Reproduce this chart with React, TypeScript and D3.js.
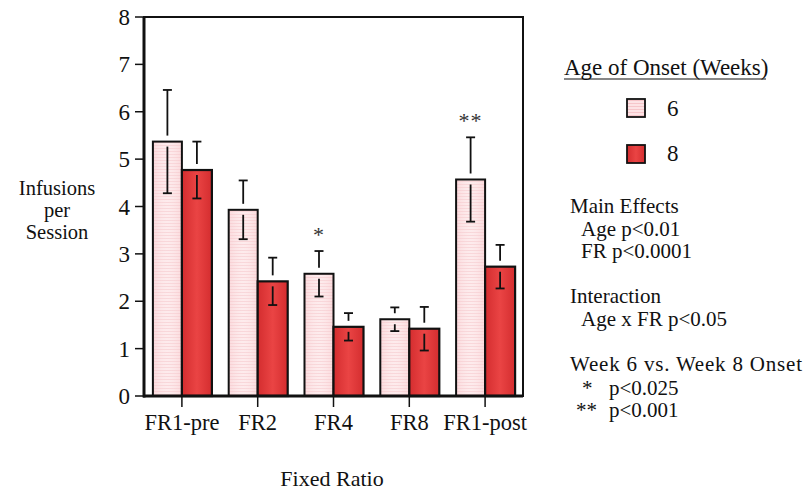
import React from "react";
import * as d3 from "d3";

const categories = ["FR1-pre", "FR2", "FR4", "FR8", "FR1-post"];
const week6Means = [5.37, 3.93, 2.58, 1.62, 4.57];
const week6Err = [1.09, 0.62, 0.48, 0.25, 0.89];
const week8Means = [4.77, 2.42, 1.46, 1.42, 2.73];
const week8Err = [0.6, 0.5, 0.29, 0.46, 0.46];
const week6Stars = ["", "", "*", "", "**"];
const yTicks = [0, 1, 2, 3, 4, 5, 6, 7, 8];
const statsLines = [
  { t: "Main Effects", dx: 0 },
  { t: "Age p<0.01", dx: 11 },
  { t: "FR p<0.0001", dx: 11 },
  { t: "", dx: 0 },
  { t: "Interaction", dx: 0 },
  { t: "Age x FR p<0.05", dx: 11 },
  { t: "", dx: 0 },
  { t: "Week 6 vs. Week 8 Onset", dx: 0 },
];

const W = 809;
const H = 494;
const font = "'Liberation Serif', 'Times New Roman', serif";

export default function App() {
  const x = d3.scaleBand<string>().domain(categories).range([144, 523]).padding(0);
  const y = d3.scaleLinear().domain([0, 8]).range([396, 17]);
  const bw = 29;

  const errorBar = (cx: number, mean: number, err: number, key: string) => {
    const top = y(mean + err);
    const bot = y(mean - err);
    const barTop = y(mean);
    const cap = 4.5;
    return (
      <g key={key} stroke="#111" strokeWidth={1.8}>
        <line x1={cx} x2={cx} y1={top} y2={barTop - 6} />
        <line x1={cx - cap} x2={cx + cap} y1={top} y2={top} />
        <line x1={cx} x2={cx} y1={barTop + 5} y2={bot} />
        <line x1={cx - cap} x2={cx + cap} y1={bot} y2={bot} />
      </g>
    );
  };

  return (
    <svg width={W} height={H} style={{ position: "absolute", left: 0, top: 0 }} fontFamily={font}>
      <defs>
        <pattern id="pinkPat" width="6" height="3" patternUnits="userSpaceOnUse">
          <rect width="6" height="3" fill="#fde3e5" />
          <rect width="6" height="1" y="1" fill="#f6c6ca" />
        </pattern>
        <linearGradient id="redGrad" x1="0" x2="1" y1="0" y2="0">
          <stop offset="0" stopColor="#d42d2f" />
          <stop offset="0.5" stopColor="#ea4444" />
          <stop offset="1" stopColor="#d42d2f" />
        </linearGradient>
        <linearGradient id="pinkGrad" x1="0" x2="1" y1="0" y2="0">
          <stop offset="0" stopColor="#f9d3d6" stopOpacity="0.6" />
          <stop offset="0.5" stopColor="#ffffff" stopOpacity="0.3" />
          <stop offset="1" stopColor="#f9d3d6" stopOpacity="0.6" />
        </linearGradient>
      </defs>
      <rect width={W} height={H} fill="#fff" />

      {/* bars */}
      {categories.map((c, i) => {
        const cx = (x(c) as number) + x.bandwidth() / 2;
        return (
          <g key={c}>
            <rect x={cx - bw} y={y(week6Means[i])} width={bw} height={y(0) - y(week6Means[i])} fill="url(#pinkPat)" />
            <rect x={cx - bw} y={y(week6Means[i])} width={bw} height={y(0) - y(week6Means[i])} fill="url(#pinkGrad)" stroke="#111" strokeWidth={2} />
            <rect x={cx} y={y(week8Means[i])} width={bw + 1} height={y(0) - y(week8Means[i])} fill="url(#redGrad)" stroke="#111" strokeWidth={2.2} />
            {errorBar(cx - bw / 2, week6Means[i], week6Err[i], "e6" + c)}
            {errorBar(cx + bw / 2 + 0.5, week8Means[i], week8Err[i], "e8" + c)}
            {week6Stars[i] && (
              <text x={cx - bw / 2} y={y(week6Means[i] + week6Err[i]) - 9} textAnchor="middle" fontSize={22} fill="#333" letterSpacing={1}>
                {week6Stars[i]}
              </text>
            )}
          </g>
        );
      })}

      {/* frame */}
      <rect x={144} y={y(8)} width={523 - 144} height={y(0) - y(8)} fill="none" stroke="#111" strokeWidth={2} />
      <line x1={144} x2={144} y1={y(8)} y2={y(0) + 1.5} stroke="#111" strokeWidth={3} />
      <line x1={143} x2={523} y1={y(0)} y2={y(0)} stroke="#111" strokeWidth={3} />

      {/* y axis */}
      {yTicks.map((t) => (
        <g key={t}>
          <line x1={135} x2={144} y1={y(t)} y2={y(t)} stroke="#111" strokeWidth={1.5} />
          <text x={130} y={y(t) + 8} textAnchor="end" fontSize={23} fill="#111">
            {t}
          </text>
        </g>
      ))}

      {/* x axis */}
      {categories.map((c) => {
        const cx = (x(c) as number) + x.bandwidth() / 2;
        return (
          <g key={"xt" + c}>
            <line x1={cx} x2={cx} y1={y(0)} y2={y(0) + 11} stroke="#111" strokeWidth={1.5} />
            <text x={cx} y={430} textAnchor="middle" fontSize={22.5} fill="#111">
              {c}
            </text>
          </g>
        );
      })}

      <text x={332} y={486} textAnchor="middle" fontSize={22} fill="#111">Fixed Ratio</text>

      <g fontSize={20.5} fill="#111" textAnchor="middle">
        <text x={57} y={195}>Infusions</text>
        <text x={57} y={217}>per</text>
        <text x={57} y={239}>Session</text>
      </g>

      {/* legend */}
      <text x={564} y={75} fontSize={23} fill="#111">Age of Onset (Weeks)</text>
      <line x1={564} x2={766} y1={79} y2={79} stroke="#111" strokeWidth={1.2} />
      <rect x={627} y={99} width={18} height={18} fill="url(#pinkPat)" stroke="#111" strokeWidth={1.8} />
      <text x={667} y={116} fontSize={23} fill="#111">6</text>
      <rect x={627} y={145} width={18} height={18} fill="url(#redGrad)" stroke="#111" strokeWidth={1.8} />
      <text x={667} y={161} fontSize={23} fill="#111">8</text>

      {/* stats */}
      <g fontSize={21} fill="#111">
        {statsLines.map((l, i) =>
          l.t ? (
            <text key={i} x={570 + l.dx} y={213 + i * 22.5} textLength={l.t === "Week 6 vs. Week 8 Onset" ? 232 : undefined}>
              {l.t}
            </text>
          ) : null
        )}
        <text x={582} y={395}>*</text>
        <text x={609} y={395}>p&lt;0.025</text>
        <text x={576} y={417}>**</text>
        <text x={609} y={417}>p&lt;0.001</text>
      </g>
    </svg>
  );
}
